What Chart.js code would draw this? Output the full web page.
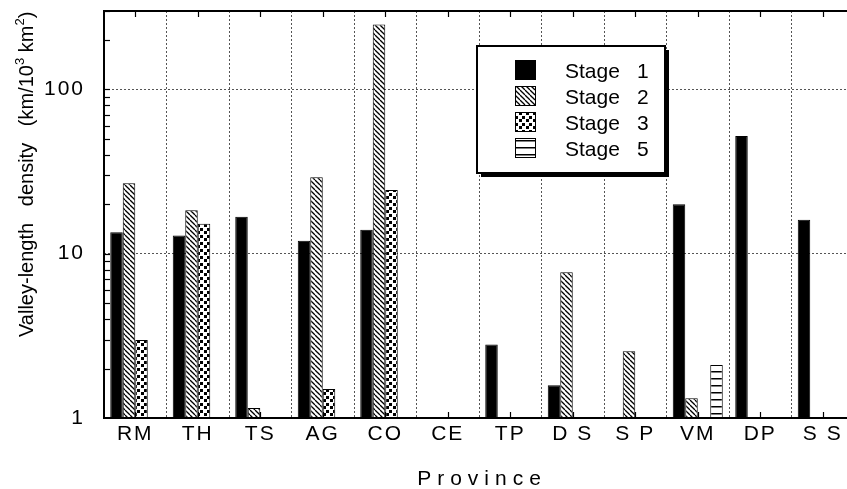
<!DOCTYPE html>
<html>
<head>
<meta charset="utf-8">
<script src="https://cdn.jsdelivr.net/npm/chart.js@4.4.1/dist/chart.umd.min.js"></script>
<style>
  html, body { margin: 0; padding: 0; background: #fff; overflow: hidden; }
  #wrap { width: 847px; height: 489px; overflow: hidden; }
</style>
</head>
<body>
<div id="wrap"><canvas id="c" width="860" height="489"></canvas></div>
<script>
const provinces = ['RM', 'TH', 'TS', 'AG', 'CO', 'CE', 'TP', 'D S', 'S P', 'VM', 'DP', 'S S'];
const stage1 = [13.5, 12.9, 16.8, 12.0, 14.0, null, 2.8, 1.58, null, 20.0, 52, 16.1];
const stage2 = [26.8, 18.4, 1.15, 29.2, 248, null, null, 7.7, 2.55, 1.32, null, null];
const stage3 = [2.98, 15.2, null, 1.5, 24.4, null, null, null, null, null, null, null];
const stage5 = [null, null, null, null, null, null, null, null, null, 2.1, null, null];
const stageNames = ['Stage 1', 'Stage 2', 'Stage 3', 'Stage 5'];
const yTicks = [1, 10, 100];
const yMin = 1, yMax = 300;

const FONT = '"Liberation Sans", Arial, Helvetica, sans-serif';

// fill patterns for the hatched bars
function makePattern(kind) {
  const c = document.createElement('canvas');
  const g = c.getContext('2d');
  if (kind === 'diag') {
    c.width = 5; c.height = 5;
    g.fillStyle = '#fff'; g.fillRect(0, 0, 5, 5);
    g.strokeStyle = '#000'; g.lineWidth = 1.3;
    for (const k of [-5, 0, 5]) { g.beginPath(); g.moveTo(k, 0); g.lineTo(k + 5, 5); g.stroke(); }
  } else if (kind === 'dots') {
    c.width = 7; c.height = 7;
    g.fillStyle = '#fff'; g.fillRect(0, 0, 7, 7);
    g.fillStyle = '#000';
    g.fillRect(1, 0, 3, 3); g.fillRect(4, 4, 3, 3);
  } else {
    c.width = 4; c.height = 7;
    g.fillStyle = '#fff'; g.fillRect(0, 0, 4, 7);
    g.fillStyle = '#000'; g.fillRect(0, 0, 4, 1.5);
  }
  return g.createPattern(c, 'repeat');
}

const fills = ['#000', makePattern('diag'), makePattern('dots'), makePattern('horiz')];
const series = [stage1, stage2, stage3, stage5];

function line(ctx, x1, y1, x2, y2) {
  ctx.beginPath(); ctx.moveTo(x1, y1); ctx.lineTo(x2, y2); ctx.stroke();
}

const decor = {
  id: 'decor',
  beforeDraw(chart) {
    chart.ctx.letterSpacing = '2px';
  },
  afterDraw(chart) {
    const ctx = chart.ctx;
    const { left, right, top, bottom } = chart.chartArea;
    const xs = chart.scales.x, ys = chart.scales.y;
    ctx.save();
    ctx.letterSpacing = '0px';

    // frame
    ctx.strokeStyle = '#000';
    ctx.lineWidth = 2;
    ctx.strokeRect(left, top, right - left, bottom - top);

    // inward ticks
    ctx.lineWidth = 1.2;
    provinces.forEach((p, i) => {
      const px = Math.round(xs.getPixelForValue(i)) + 0.5;
      line(ctx, px, top, px, top + 6);
      line(ctx, px, bottom, px, bottom - 6);
    });
    for (const d of yTicks) {
      for (let m = 1; m <= 9; m++) {
        const v = d * m;
        if (v <= yMin || v > yMax) continue;
        const py = Math.round(ys.getPixelForValue(v)) + 0.5;
        line(ctx, left, py, left + 6, py);
      }
    }

    // x title
    ctx.fillStyle = '#000';
    ctx.font = '21px ' + FONT;
    ctx.letterSpacing = '6px';
    ctx.textAlign = 'center';
    ctx.textBaseline = 'alphabetic';
    ctx.fillText('Province', (left + right) / 2 + 3, 485);

    // y title with superscripts
    ctx.letterSpacing = '0px';
    ctx.save();
    ctx.translate(33, 337);
    ctx.rotate(-Math.PI / 2);
    ctx.textAlign = 'left';
    const parts = [['Valley-length   density   (km/10', 20, 0], ['3', 13, -9], [' km', 20, 0], ['2', 13, -9], [')', 20, 0]];
    let tx = 0;
    for (const [t, size, dy] of parts) {
      ctx.font = size + 'px ' + FONT;
      ctx.fillText(t, tx, dy);
      tx += ctx.measureText(t).width;
    }
    ctx.restore();

    // legend
    const bx = 477, by = 46, bw = 188, bh = 127;
    ctx.fillStyle = '#000';
    ctx.fillRect(bx + 4, by + 4, bw, bh);
    ctx.fillStyle = '#fff';
    ctx.fillRect(bx, by, bw, bh);
    ctx.strokeStyle = '#000';
    ctx.lineWidth = 2;
    ctx.strokeRect(bx, by, bw, bh);
    ctx.font = '21px ' + FONT;
    ctx.textAlign = 'left';
    stageNames.forEach((name, i) => {
      const base = 77.5 + i * 26;
      ctx.fillStyle = fills[i];
      ctx.fillRect(515, base - 17.5, 21, 20);
      ctx.strokeStyle = '#000';
      ctx.lineWidth = 1;
      ctx.strokeRect(515.5, base - 17, 20, 19);
      ctx.fillStyle = '#000';
      const [word, num] = name.split(' ');
      ctx.fillText(word, 565, base);
      ctx.fillText(num, 637, base);
    });
    ctx.restore();
  }
};

new Chart(document.getElementById('c'), {
  type: 'bar',
  data: {
    labels: provinces,
    datasets: series.map((s, i) => ({
      label: stageNames[i],
      data: s,
      backgroundColor: fills[i],
      borderColor: '#000',
      borderWidth: 1,
      categoryPercentage: 0.8,
      barPercentage: 1.0,
    })),
  },
  options: {
    responsive: false,
    animation: false,
    devicePixelRatio: 1,
    layout: { padding: { top: 11, right: 6, left: 0, bottom: 0 } },
    plugins: { legend: { display: false }, tooltip: { enabled: false } },
    scales: {
      x: {
        offset: true,
        grid: { offset: true, color: '#555', lineWidth: 1, drawTicks: false },
        border: { display: false, dash: [2, 2] },
        ticks: { color: '#000', font: { family: FONT, size: 21 }, padding: 4, maxRotation: 0, autoSkip: false },
        afterFit: s => { s.height = 71; s.paddingLeft = 0; s.paddingRight = 0; },
      },
      y: {
        type: 'logarithmic',
        min: yMin,
        max: yMax,
        afterBuildTicks: s => { s.ticks = yTicks.map(v => ({ value: v })); },
        grid: { color: c => (c.tick && c.tick.value === yMin ? 'rgba(0,0,0,0)' : '#555'), lineWidth: 1, drawTicks: false },
        border: { display: false, dash: [2, 2] },
        ticks: { color: '#000', font: { family: FONT, size: 21 }, padding: 19, callback: v => String(v) },
        afterFit: s => { s.width = 104; s.paddingTop = 0; s.paddingBottom = 0; },
      },
    },
  },
  plugins: [decor],
});
</script>
</body>
</html>
